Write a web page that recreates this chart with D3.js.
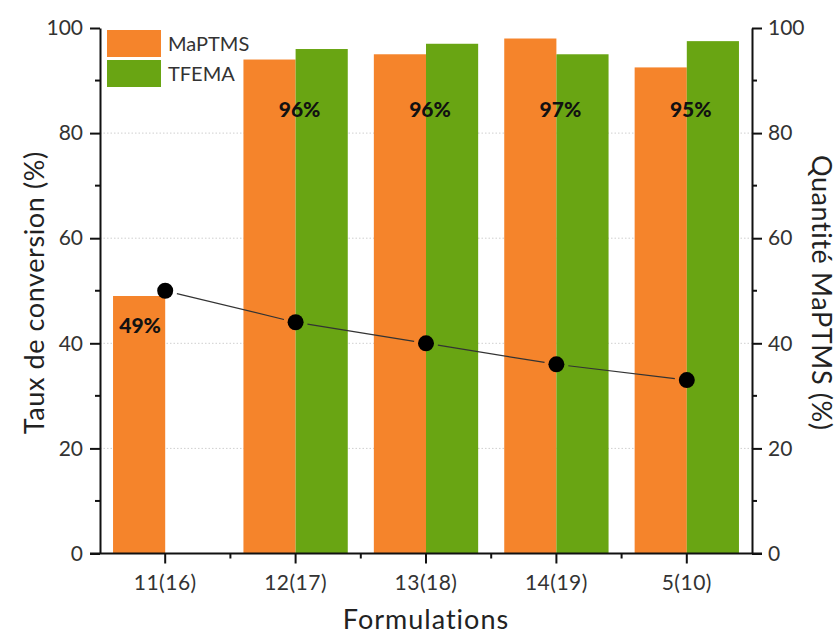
<!DOCTYPE html>
<html><head><meta charset="utf-8">
<script src="https://cdn.jsdelivr.net/npm/d3@7"></script>
<style>
body{margin:0;background:#fff;}
text{font-family:Lato,"Open Sans",sans-serif;fill:#222;}
</style></head>
<body><svg id="c" width="840" height="637"></svg>
<script>
const categories = ["11(16)","12(17)","13(18)","14(19)","5(10)"];
const maptms = [49, 94, 95, 98, 92.5];
const tfema = [null, 96, 97, 95, 97.5];
const quantite = [50, 44, 40, 36, 33];
const convLabels = ["49%","96%","96%","97%","95%"];
const yTicks = [0,20,40,60,80,100];

const W=840,H=637, L=100, R=752, T=28, B=553.5;
const svg=d3.select("#c");
const x=d3.scaleBand().domain(categories).range([L,R]).padding(0);
const y=d3.scaleLinear().domain([0,100]).range([B,T]);
const y2=d3.scaleLinear().domain([0,100]).range([B,T]);
const bw=x.bandwidth()*0.4;
const cx=d=>x(d)+x.bandwidth()/2;
const ORANGE="#F5842B", GREEN="#69A513";

// gridlines
svg.append("g").selectAll("line").data([20,40,60,80]).join("line")
 .attr("x1",L).attr("x2",R).attr("y1",d=>y(d)).attr("y2",d=>y(d))
 .attr("stroke","#cfcfcf").attr("stroke-width",1).attr("stroke-dasharray","1.5,2");

// bars
svg.append("g").selectAll("rect").data(categories).join("rect")
 .attr("x",d=>cx(d)-bw).attr("width",bw)
 .attr("y",(d,i)=>y(maptms[i])).attr("height",(d,i)=>B-y(maptms[i])).attr("fill",ORANGE);
svg.append("g").selectAll("rect").data(categories.filter((d,i)=>tfema[i]!=null)).join("rect")
 .attr("x",d=>cx(d)).attr("width",bw)
 .attr("y",d=>y(tfema[categories.indexOf(d)])).attr("height",d=>B-y(tfema[categories.indexOf(d)])).attr("fill",GREEN);

// labels
svg.append("g").selectAll("text").data(categories).join("text")
 .attr("x",(d,i)=>tfema[i]==null? cx(d)-bw/2+1 : cx(d)+4)
 .attr("y",(d,i)=>tfema[i]==null? y(maptms[i])+37 : y(83))
 .attr("text-anchor","middle").attr("font-size",21).attr("font-weight","900")
 .style("fill","#111").text((d,i)=>convLabels[i]);

// line with gaps
const pts=categories.map((d,i)=>[cx(d),y2(quantite[i])]);
const r=8, gap=4;
const segs=[];
for(let i=0;i<pts.length-1;i++){
  const [x1,y1]=pts[i],[x2,yy2]=pts[i+1];
  const dx=x2-x1, dy=yy2-y1, len=Math.hypot(dx,dy), ux=dx/len, uy=dy/len;
  segs.push([x1+ux*(r+gap),y1+uy*(r+gap),x2-ux*(r+gap),yy2-uy*(r+gap)]);
}
svg.append("g").selectAll("line").data(segs).join("line")
 .attr("x1",d=>d[0]).attr("y1",d=>d[1]).attr("x2",d=>d[2]).attr("y2",d=>d[3])
 .attr("stroke","#333").attr("stroke-width",1.2);
svg.append("g").selectAll("circle").data(pts).join("circle")
 .attr("cx",d=>d[0]).attr("cy",d=>d[1]).attr("r",r).attr("fill","#000");

// axes
function styleAxis(g){g.selectAll("path,line").attr("stroke","#111").attr("stroke-width",2);
  g.selectAll("text").attr("font-size",21).style("fill","#333");}
const minor=d3.range(10,100,20);
const gl=svg.append("g").attr("transform",`translate(${L},0)`)
 .call(d3.axisLeft(y).tickValues(yTicks).tickSize(10).tickSizeOuter(0).tickPadding(7));
gl.append("g").selectAll("line").data(minor).join("line").attr("x1",0).attr("x2",-5).attr("y1",d=>y(d)).attr("y2",d=>y(d));
styleAxis(gl);
const gr=svg.append("g").attr("transform",`translate(${R},0)`)
 .call(d3.axisRight(y2).tickValues(yTicks).tickSize(10).tickSizeOuter(0).tickPadding(6));
gr.append("g").selectAll("line").data(minor).join("line").attr("x1",0).attr("x2",5).attr("y1",d=>y2(d)).attr("y2",d=>y2(d));
styleAxis(gr);
const gb=svg.append("g").attr("transform",`translate(0,${B})`)
 .call(d3.axisBottom(x).tickSize(10).tickSizeOuter(0).tickPadding(8));
gb.append("g").selectAll("line").data(categories.slice(1)).join("line")
 .attr("x1",d=>x(d)).attr("x2",d=>x(d)).attr("y1",0).attr("y2",5);
styleAxis(gb);
gb.select(".domain").attr("d",`M${L-10},0H${R+10}`);
gb.selectAll(".tick text").attr("dy","0.9em").attr("letter-spacing","0.5");

// titles
svg.append("text").attr("transform",`translate(44,${(T+B)/2+2}) rotate(-90)`).attr("text-anchor","middle")
 .attr("font-size",27).attr("letter-spacing","0.6").text("Taux de conversion (%)");
svg.append("text").attr("transform",`translate(812,${(T+B)/2+2}) rotate(90)`).attr("text-anchor","middle")
 .attr("font-size",27).attr("letter-spacing","0.6").text("Quantité MaPTMS (%)");
svg.append("text").attr("x",(L+R)/2).attr("y",629).attr("text-anchor","middle")
 .attr("font-size",27).attr("letter-spacing","1").text("Formulations");

// legend
const leg=[["MaPTMS",ORANGE],["TFEMA",GREEN]];
const lg=svg.append("g").selectAll("g").data(leg).join("g").attr("transform",(d,i)=>`translate(107,${30+i*30})`);
lg.append("rect").attr("width",54).attr("height",27).attr("fill",d=>d[1]);
lg.append("text").attr("x",61).attr("y",14).attr("dy","0.35em").attr("font-size",20).style("fill","#333").text(d=>d[0]);
</script></body></html>
